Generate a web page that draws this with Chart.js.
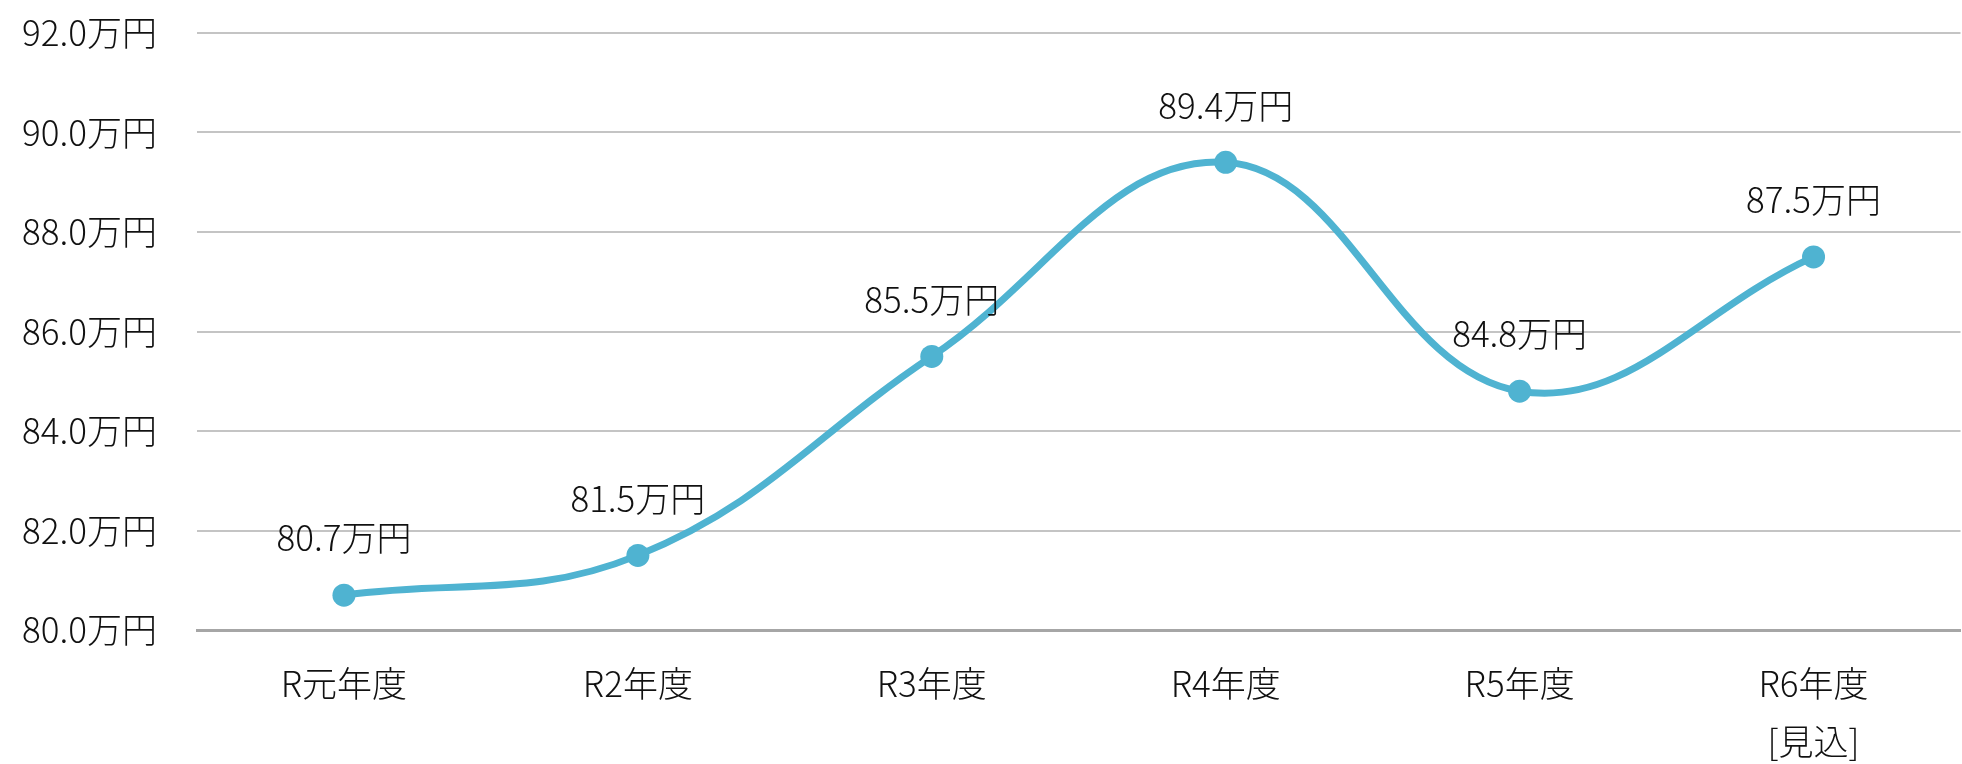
<!DOCTYPE html>
<html lang="ja">
<head>
<meta charset="utf-8">
<script src="https://cdn.jsdelivr.net/npm/chart.js@4/dist/chart.umd.min.js"></script>
<style>
  html, body { margin: 0; padding: 0; background: #fff; overflow: hidden; }
  #wrap { width: 1972px; height: 764px; position: relative; }
</style>
</head>
<body>
<div id="wrap"><canvas id="c"></canvas></div>
<script>
const categories = [["R元年度"], ["R2年度"], ["R3年度"], ["R4年度"], ["R5年度"], ["R6年度", "[見込]"]];
const values = [80.7, 81.5, 85.5, 89.4, 84.8, 87.5];
const yMin = 80, yMax = 92, yStep = 2;
const unit = "万円";

const FONT = '"Noto Sans CJK JP", "Noto Sans", sans-serif';
const LINE = '#4fb3d1';
const FONT_SIZE = 35;
const FONT_WEIGHT = 300;

const valueLabels = {
  id: 'valueLabels',
  afterDatasetsDraw(chart) {
    const ctx = chart.ctx;
    const meta = chart.getDatasetMeta(0);
    ctx.save();
    ctx.font = FONT_WEIGHT + ' ' + FONT_SIZE + 'px ' + FONT;
    ctx.fillStyle = '#111';
    ctx.textAlign = 'center';
    ctx.textBaseline = 'middle';
    meta.data.forEach((pt, i) => {
      ctx.fillText(values[i].toFixed(1) + unit, pt.x, pt.y - 57);
    });
    ctx.restore();
  }
};

new Chart(document.getElementById('c'), {
  type: 'line',
  data: {
    labels: categories,
    datasets: [{
      data: values,
      borderColor: LINE,
      backgroundColor: LINE,
      borderWidth: 7,
      pointRadius: 11.5,
      pointHoverRadius: 11.5,
      pointBackgroundColor: LINE,
      pointBorderWidth: 0,
      tension: 0.4,
      fill: false
    }]
  },
  options: {
    responsive: true,
    maintainAspectRatio: false,
    animation: false,
    layout: { padding: { top: 33, left: 0, right: 0, bottom: 0 } },
    plugins: { legend: { display: false }, tooltip: { enabled: false } },
    scales: {
      x: {
        offset: true,
        grid: { display: false, drawTicks: false },
        border: { display: true, color: '#a6a6a6', width: 3 },
        ticks: {
          color: '#111',
          padding: 24,
          maxRotation: 0,
          autoSkip: false,
          font: { family: FONT, size: FONT_SIZE, weight: FONT_WEIGHT, lineHeight: 1.68 }
        },
        afterFit(scale) { scale.height = 134; scale.paddingLeft = 0; scale.paddingRight = 0; }
      },
      y: {
        min: yMin,
        max: yMax,
        grid: { color: '#c4c4c4', lineWidth: 2, drawTicks: false },
        border: { display: false },
        ticks: {
          stepSize: yStep,
          color: '#111',
          padding: 40,
          font: { family: FONT, size: FONT_SIZE, weight: FONT_WEIGHT },
          callback: v => Number(v).toFixed(1) + unit
        },
        afterFit(scale) { scale.width = 197; scale.paddingTop = 0; scale.paddingBottom = 0; }
      }
    }
  },
  plugins: [valueLabels]
});
</script>
</body>
</html>
